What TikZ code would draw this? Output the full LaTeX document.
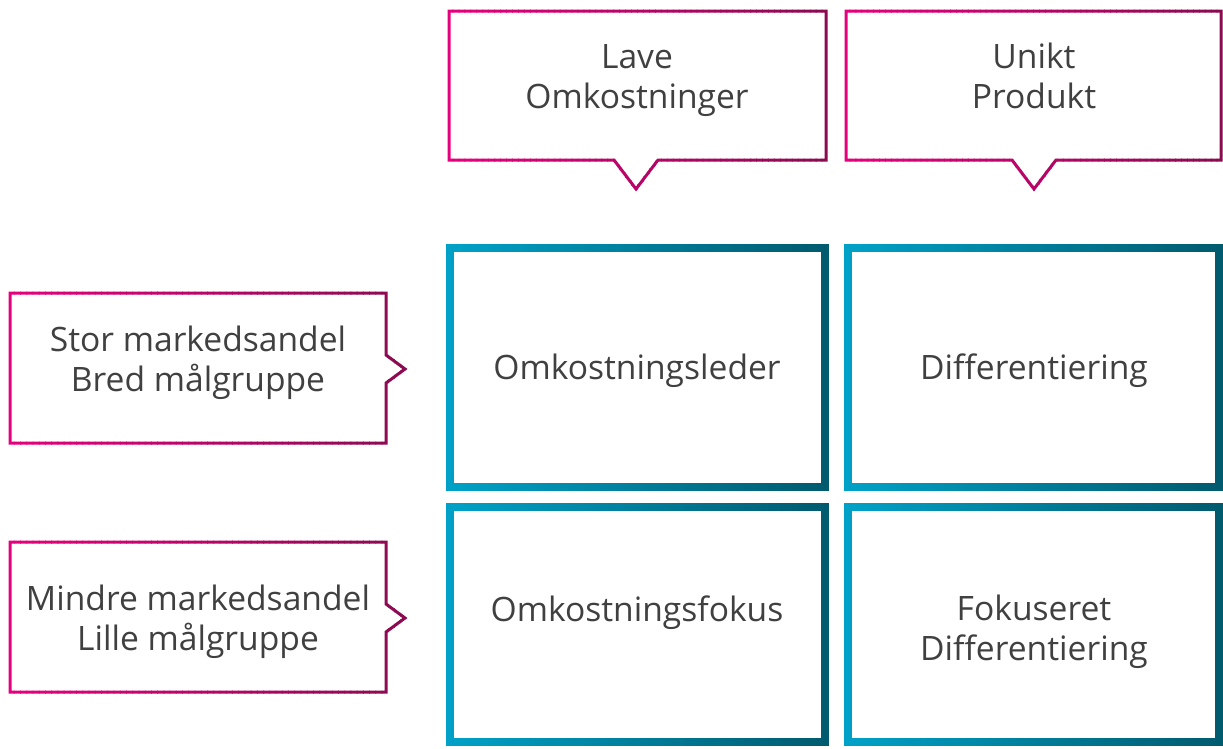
\documentclass[tikz,border=0pt]{standalone}
\usepackage{fontspec}
\setmainfont{Open Sans}
\definecolor{magL}{HTML}{E6007E}
\definecolor{magR}{HTML}{8A0A50}
\definecolor{tealL}{HTML}{00A2C8}
\definecolor{tealR}{HTML}{005A6E}
\definecolor{txt}{HTML}{404040}
% Stroke a closed path with a horizontal colour gradient, by drawing it
% once per narrow vertical strip: #1 path, #2/#3 colours, #4/#5 x range, #6 width
\newcommand\gradstroke[6]{%
  \foreach \i in {0,...,63}{%
    \pgfmathsetmacro\xa{#4+(#5-#4)/64*\i-0.4}%
    \pgfmathsetmacro\xb{#4+(#5-#4)/64*(\i+1)+0.4}%
    \pgfmathsetmacro\pc{100-100/64*(\i+0.5)}%
    \begin{scope}
      \clip (\xa,-20) rectangle (\xb,770);
      \draw[line width=#6, line join=miter, color=#2!\pc!#3] #1;
    \end{scope}}}
\tikzset{
  label text/.style={text=txt, font=\fontsize{33.6}{40}\selectfont, align=center, inner sep=0pt, anchor=base},
}
\begin{document}
\begin{tikzpicture}[x=1pt,y=-1pt]
\useasboundingbox (0,0) rectangle (1223,748);
\fill[white] (0,0) rectangle (1223,748);

% column headers (callouts pointing down)
\gradstroke{(449,11) -- (826,11) -- (826,160) -- (658,160) -- (636,189) -- (614,160) -- (449,160) -- cycle}{magL}{magR}{447}{828}{3}
\gradstroke{(846,11) -- (1221,11) -- (1221,160) -- (1056,160) -- (1034,189) -- (1012,160) -- (846,160) -- cycle}{magL}{magR}{844}{1223}{3}

% row headers (callouts pointing right)
\gradstroke{(10,293) -- (386,293) -- (386,355) -- (405,369) -- (386,383) -- (386,443) -- (10,443) -- cycle}{magL}{magR}{8}{407}{3}
\gradstroke{(10,542) -- (386,542) -- (386,604) -- (405,618) -- (386,632) -- (386,692) -- (10,692) -- cycle}{magL}{magR}{8}{407}{3}

% strategy matrix
\gradstroke{(450,248) rectangle (825,487)}{tealL}{tealR}{446}{829}{8}
\gradstroke{(848,248) rectangle (1219,487)}{tealL}{tealR}{844}{1223}{8}
\gradstroke{(450,507) rectangle (825,742)}{tealL}{tealR}{446}{829}{8}
\gradstroke{(848,507) rectangle (1219,742)}{tealL}{tealR}{844}{1223}{8}

% texts (placed by the baseline of their last line)
\node[label text] (lave) at (637,108) {Lave\\Omkostninger};
\node[label text] (unikt) at (1034,108) {Unikt\\Produkt};
\node[label text] (stor) at (198,391) {Stor markedsandel\\Bred målgruppe};
\node[label text] (mindre) at (198,650) {Mindre markedsandel\\Lille målgruppe};
\node[label text] (leder) at (637,379) {Omkostningsleder};
\node[label text] (diff) at (1034,379) {Differentiering};
\node[label text] (fokus) at (637,621) {Omkostningsfokus};
\node[label text] (fokdiff) at (1034,660) {Fokuseret\\Differentiering};
\end{tikzpicture}
\end{document}
